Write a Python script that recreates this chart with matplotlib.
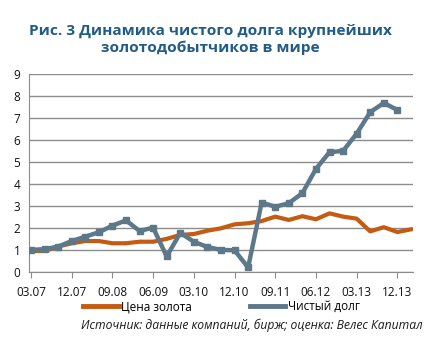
import matplotlib
matplotlib.use("Agg")
import matplotlib.pyplot as plt
from matplotlib.lines import Line2D

# quarterly data 03.07 .. 12.13
debt = [1.02, 1.05, 1.17, 1.42, 1.62, 1.82, 2.12, 2.36, 1.88, 2.03,
        0.72, 1.79, 1.39, 1.15, 1.02, 1.0, 0.22, 3.17, 2.98, 3.14,
        3.6, 4.7, 5.46, 5.52, 6.3, 7.28, 7.7, 7.38]
gold = [0.97, 0.97, 1.17, 1.32, 1.42, 1.42, 1.32, 1.32, 1.39, 1.39,
        1.52, 1.70, 1.74, 1.89, 2.0, 2.18, 2.23, 2.33, 2.53, 2.38,
        2.55, 2.41, 2.68, 2.53, 2.44, 1.86, 2.05, 1.83, 1.97]
gold_x = list(range(len(gold) - 1)) + [28.15]
tick_labels = ["03.07", "12.07", "09.08", "06.09", "03.10", "12.10",
               "09.11", "06.12", "03.13", "12.13"]

title = "Рис. 3 Динамика чистого долга крупнейших\nзолотодобытчиков в мире"
source = "Источник: данные компаний, бирж; оценка: Велес Капитал"

plt.rcParams["font.family"] = ["Open Sans", "DejaVu Sans"]

gold_color = "#c55a11"
debt_color = "#5c7889"
grid_color = "#8c8c8c"

fig = plt.figure(figsize=(4.43, 3.49), dpi=100)
ax = fig.add_axes([0.0648, 0.2198, 0.868, 0.5672])

ax.plot(gold_x, gold, color=gold_color, lw=3.0, solid_joinstyle="round",
        solid_capstyle="butt", zorder=3)
ax.plot(range(len(debt)), debt, color=debt_color, lw=3.2, marker="s",
        markersize=4.5, solid_joinstyle="round", zorder=4)

ax.set_xlim(-0.17, 28.17)
ax.set_ylim(0, 9)
ax.set_yticks(range(10))
ax.set_xticks(range(0, 28, 3))
ax.set_xticklabels(tick_labels)
ax.yaxis.grid(True, color=grid_color, lw=1.0)
ax.set_axisbelow(True)
for side in ["top", "right"]:
    ax.spines[side].set_visible(False)
for side in ["left", "bottom"]:
    ax.spines[side].set_color(grid_color)
ax.tick_params(axis="x", length=4, color=grid_color, labelsize=8.5, pad=6,
               labelcolor="#111111")
ax.tick_params(axis="y", length=0, labelsize=8.5, pad=6, labelcolor="#111111")

fig.text(0.474, 0.887, title, ha="center", va="center", fontsize=11.1,
         fontweight="bold", color="#215b88", linespacing=1.2)

handles = [Line2D([], [], color=gold_color, lw=3.5),
           Line2D([], [], color=debt_color, lw=3.5)]
fig.legend(handles, ["Цена золота", "Чистый долг"], loc="center",
           bbox_to_anchor=(0.5, 0.121), ncol=2, frameon=False,
           fontsize=8.5, handlelength=3.0, handletextpad=0.2,
           columnspacing=4.9)

fig.text(0.955, 0.067, source, ha="right", va="center", fontsize=8.7,
         style="italic", color="#1a1a1a")

fig.savefig("out.png", dpi=100)
